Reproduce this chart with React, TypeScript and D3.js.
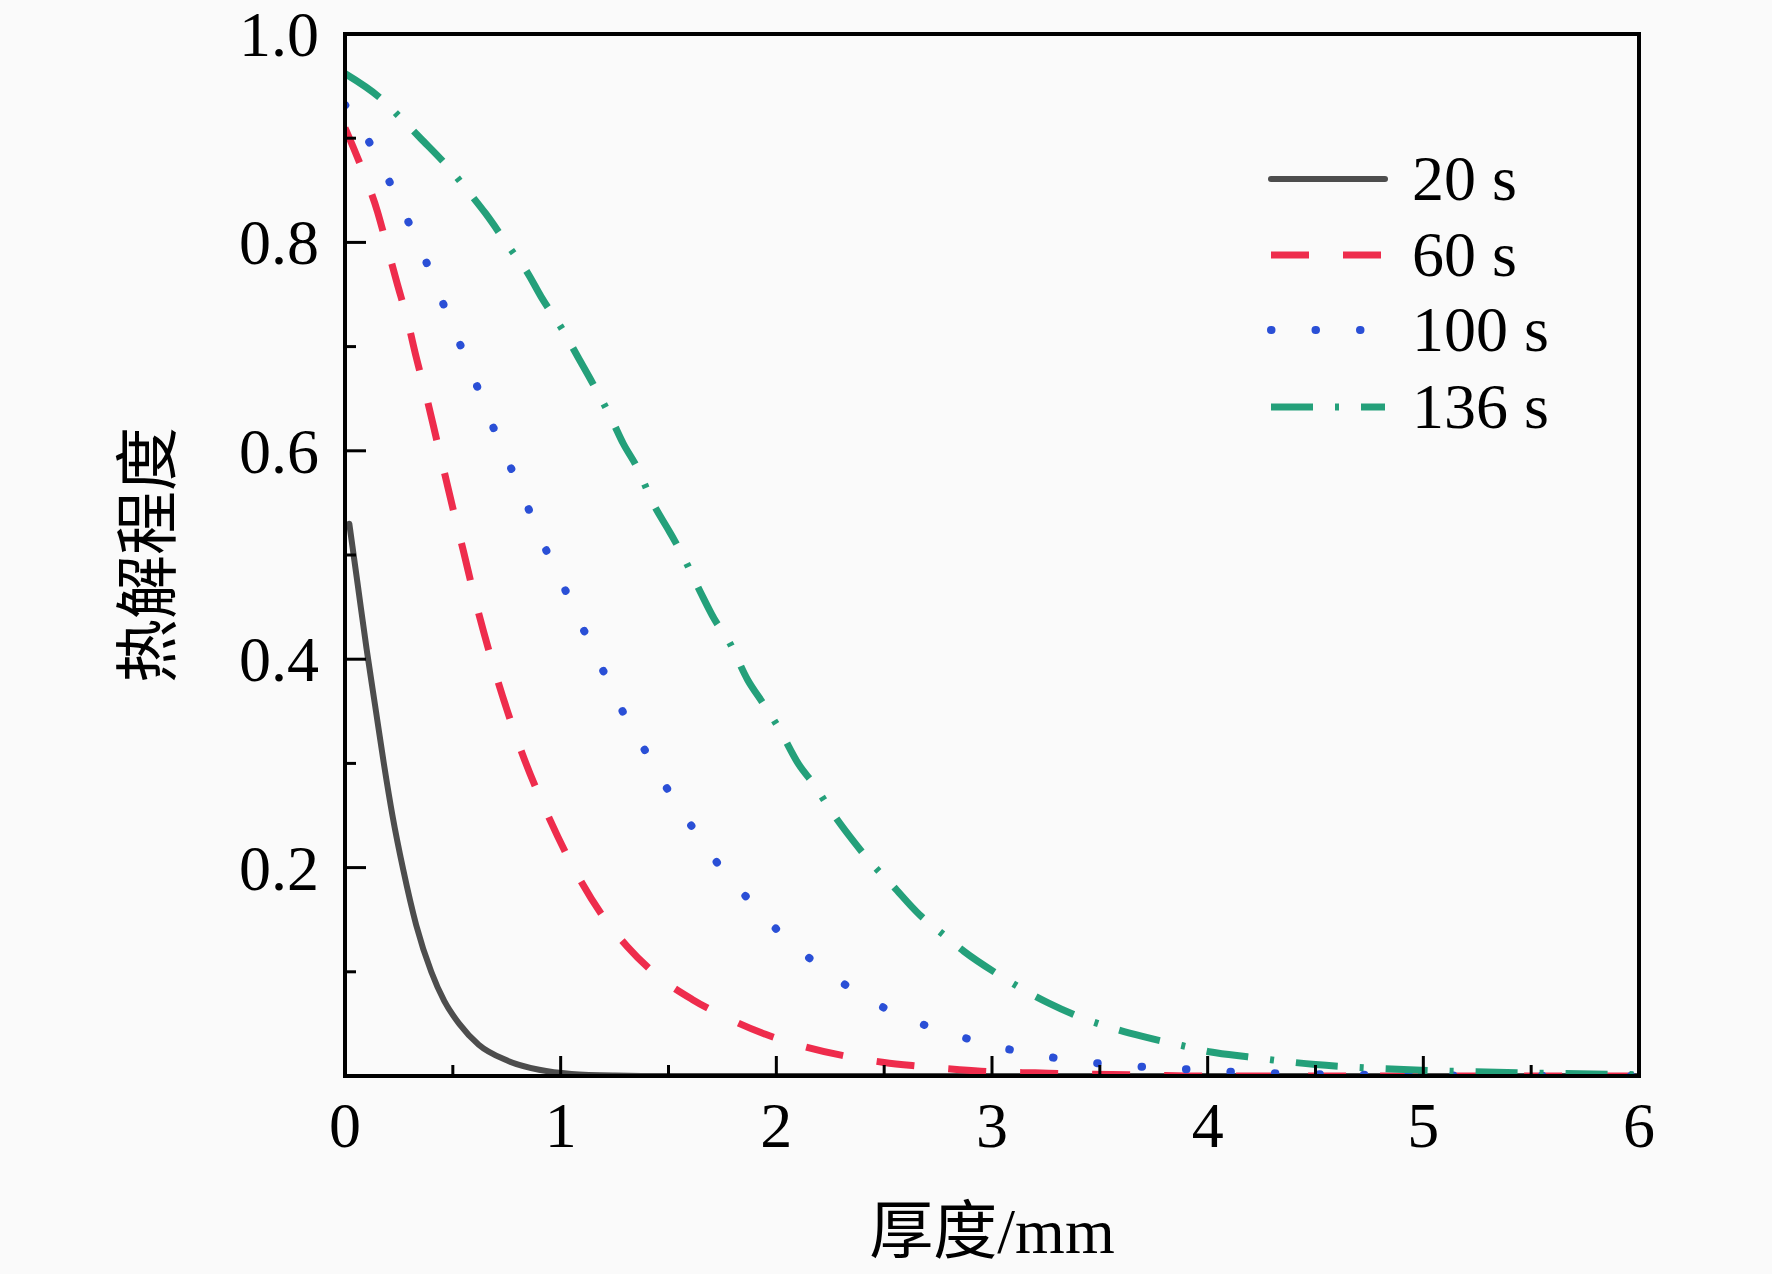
import * as d3 from "d3";

// degree of pyrolysis vs. thickness, four heating times
const timeLabels = ["20 s", "60 s", "100 s", "136 s"];

const s20X = [0.02, 0.06, 0.1, 0.14, 0.18, 0.22, 0.27, 0.33, 0.4, 0.46, 0.53, 0.62, 0.75, 0.9, 1.05, 1.25, 1.5, 6];
const s20Y = [0.53, 0.47, 0.41, 0.355, 0.3, 0.25, 0.198, 0.145, 0.1, 0.072, 0.05, 0.03, 0.015, 0.006, 0.002, 0.0005, 0, 0];

const s60X = [0, 0.08, 0.15, 0.19, 0.24, 0.29, 0.33, 0.38, 0.42, 0.46, 0.5, 0.55, 0.6, 0.69, 0.81, 0.95, 1.08, 1.2, 1.31, 1.45, 1.61, 1.78, 1.95, 2.1, 2.3, 2.5, 2.65, 2.85, 3.0, 3.2, 3.4, 3.7, 4.0, 6.0];
const s60Y = [0.91, 0.87, 0.83, 0.8, 0.762, 0.725, 0.69, 0.65, 0.615, 0.58, 0.545, 0.503, 0.46, 0.392, 0.316, 0.246, 0.192, 0.152, 0.124, 0.096, 0.0735, 0.055, 0.04, 0.03, 0.02, 0.013, 0.0096, 0.006, 0.004, 0.003, 0.002, 0.001, 0, 0];

const s100X = [0, 0.14, 0.234, 0.326, 0.412, 0.49, 0.575, 0.651, 0.736, 0.82, 0.903, 1.0, 1.084, 1.179, 1.272, 1.376, 1.484, 1.6, 1.717, 1.856, 2.0, 2.166, 2.346, 2.533, 2.742, 2.953, 3.16, 3.377, 3.588, 3.8, 4.02, 4.23, 4.45, 4.8, 5.2, 6.0];
const s100Y = [0.932, 0.886, 0.846, 0.805, 0.764, 0.723, 0.682, 0.641, 0.599, 0.56, 0.518, 0.476, 0.438, 0.397, 0.356, 0.318, 0.279, 0.242, 0.207, 0.173, 0.141, 0.111, 0.084, 0.062, 0.045, 0.032, 0.022, 0.015, 0.0103, 0.0077, 0.005, 0.003, 0.002, 0.001, 0.0004, 0];

const s136X = [0, 0.172, 0.26, 0.35, 0.49, 0.571, 0.651, 0.766, 0.843, 0.909, 1.015, 1.08, 1.148, 1.237, 1.29, 1.352, 1.43, 1.504, 1.566, 1.649, 1.711, 1.783, 1.866, 1.939, 2.011, 2.104, 2.177, 2.249, 2.363, 2.446, 2.529, 2.663, 2.767, 2.87, 3.036, 3.15, 3.263, 3.44, 3.574, 3.698, 3.885, 4.015, 4.185, 4.5, 4.75, 5.2, 5.6, 6.0];
const s136Y = [0.962, 0.937, 0.919, 0.9, 0.8695, 0.849, 0.828, 0.794, 0.772, 0.748, 0.714, 0.69, 0.665, 0.63, 0.607, 0.585, 0.549, 0.5226, 0.4995, 0.464, 0.439, 0.416, 0.3806, 0.3575, 0.334, 0.299, 0.279, 0.256, 0.224, 0.203, 0.185, 0.155, 0.137, 0.1196, 0.0965, 0.0823, 0.07, 0.054, 0.045, 0.038, 0.029, 0.023, 0.0184, 0.011, 0.0077, 0.0042, 0.0025, 0.0012];

const xTicks = [0, 1, 2, 3, 4, 5, 6];
const xMinor = [0.5, 1.5, 2.5, 3.5, 4.5, 5.5];
const yTicks = [0.2, 0.4, 0.6, 0.8, 1.0];
const yMinor = [0.1, 0.3, 0.5, 0.7, 0.9];

const FONT = "'Liberation Serif', 'Noto Sans CJK SC', serif";

const styles = [
  { color: "#4d4d4d", dash: undefined, cap: "round", width: 6 },
  { color: "#ee2c4c", dash: "38,34", cap: "butt", width: 7 },
  { color: "#2a4fd6", dash: "0.5,44", cap: "round", width: 8 },
  { color: "#24a07a", dash: "42,22,4,22", cap: "butt", width: 7 },
];

export default function App() {
  const W = 1772, H = 1274;
  const left = 345, right = 1639, top = 34, bottom = 1076;
  const x = d3.scaleLinear().domain([0, 6]).range([left, right]);
  const y = d3.scaleLinear().domain([0, 1]).range([bottom, top]);

  const series = [
    { xs: s20X, ys: s20Y },
    { xs: s60X, ys: s60Y },
    { xs: s100X, ys: s100Y },
    { xs: s136X, ys: s136Y },
  ];
  const line = d3
    .line<[number, number]>()
    .x((d) => x(d[0]))
    .y((d) => y(d[1]))
    .curve(d3.curveMonotoneX);

  const legendY = [179, 255, 330, 407];

  return (
    <div style={{ position: "absolute", left: 0, top: 0 }}>
      <svg width={W} height={H} style={{ display: "block" }} fontFamily={FONT}>
        <rect width={W} height={H} fill="#fafafa" />
        <defs>
          <clipPath id="plot">
            <rect x={left} y={top - 10} width={right - left} height={bottom - top + 10} />
          </clipPath>
        </defs>

        <g clipPath="url(#plot)">
          {series.map((s, i) => (
            <path
              key={i}
              d={line(s.xs.map((v, j) => [v, s.ys[j]] as [number, number])) ?? ""}
              fill="none"
              stroke={styles[i].color}
              strokeWidth={styles[i].width}
              strokeDasharray={styles[i].dash}
              strokeLinecap={styles[i].cap as any}
            />
          ))}
        </g>

        {/* ticks, pointing inward */}
        {xTicks.map((t) => (
          <line key={"xt" + t} x1={x(t)} x2={x(t)} y1={bottom} y2={bottom - 20} stroke="#000" strokeWidth={3} />
        ))}
        {xMinor.map((t) => (
          <line key={"xm" + t} x1={x(t)} x2={x(t)} y1={bottom} y2={bottom - 11} stroke="#000" strokeWidth={3} />
        ))}
        {yTicks.map((t) => (
          <line key={"yt" + t} x1={left} x2={left + 21} y1={y(t)} y2={y(t)} stroke="#000" strokeWidth={3} />
        ))}
        {yMinor.map((t) => (
          <line key={"ym" + t} x1={left} x2={left + 11} y1={y(t)} y2={y(t)} stroke="#000" strokeWidth={3} />
        ))}

        <rect x={left} y={top} width={right - left} height={bottom - top} fill="none" stroke="#000" strokeWidth={4} />

        {xTicks.map((t) => (
          <text key={"xl" + t} x={x(t)} y={1147} textAnchor="middle" fontSize={64} fill="#000">
            {t}
          </text>
        ))}
        {yTicks.map((t) => (
          <text key={"yl" + t} x={319} y={y(t) + 22} textAnchor="end" fontSize={64} fill="#000">
            {t.toFixed(1)}
          </text>
        ))}

        <text x={(left + right) / 2} y={1253} textAnchor="middle" fontSize={64} fill="#000">
          厚度/mm
        </text>
        <text
          transform={`translate(148,${(top + bottom) / 2}) rotate(-90)`}
          textAnchor="middle"
          dominantBaseline="central"
          fontSize={64}
          fill="#000"
        >
          热解程度
        </text>

        {timeLabels.map((name, i) => (
          <g key={name}>
            <line
              x1={1271}
              x2={1385}
              y1={legendY[i]}
              y2={legendY[i]}
              stroke={styles[i].color}
              strokeWidth={styles[i].width}
              strokeDasharray={styles[i].dash}
              strokeLinecap={styles[i].cap as any}
            />
            <text x={1412} y={legendY[i] + 21} fontSize={64} fill="#000">
              {name}
            </text>
          </g>
        ))}
      </svg>
    </div>
  );
}
